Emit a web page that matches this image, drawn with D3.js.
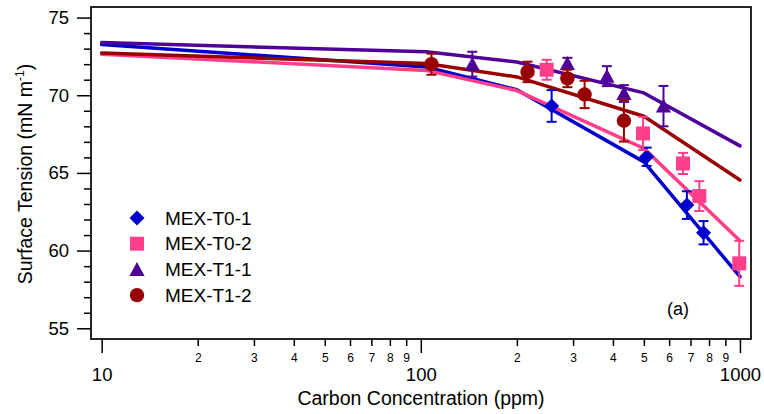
<!DOCTYPE html>
<html>
<head>
<meta charset="utf-8">
<script src="https://cdn.jsdelivr.net/npm/d3@7"></script>
<style>
  body { margin: 0; background: #fff; }
  svg { font-family: "Liberation Sans", Arial, sans-serif; }
</style>
</head>
<body>
<div id="chart"></div>
<script>
// fitted curves (model evaluated at a few concentrations)
const lineConc = [10, 104, 200, 500, 1000]
const lineT01 = [73.26, 71.82, 70.36, 65.71, 58.32]
const lineT02 = [72.64, 71.6, 70.3, 66.58, 60.63]
const lineT11 = [73.39, 72.8, 72.14, 70.15, 66.74]
const lineT12 = [72.72, 72.04, 71.18, 68.65, 64.54]

// measured points
const concT01 = [257, 510, 682, 769]
const stT01 = [69.31, 66.04, 62.93, 61.15]
const errT01 = [1.02, 0.59, 0.89, 0.75]

const concT02 = [248, 497, 663, 746, 995]
const stT02 = [71.64, 67.54, 65.61, 63.51, 59.18]
const errT02 = [0.64, 1.07, 0.68, 0.96, 1.45]

const concT11 = [145, 288, 383, 433, 576]
const stT11 = [72.0, 72.05, 71.23, 70.11, 69.3]
const errT11 = [0.8, 0.36, 0.64, 0.54, 1.3]

const concT12 = [108, 216, 288, 326, 433]
const stT12 = [72.0, 71.5, 71.08, 70.05, 68.36]
const errT12 = [0.68, 0.66, 0.56, 0.88, 1.34]

const seriesNames = ['MEX-T0-1', 'MEX-T0-2', 'MEX-T1-1', 'MEX-T1-2']
const yMajor = [55, 60, 65, 70, 75]
const xMajor = [10, 100, 1000]

const colors = ['#0000cc', '#ff3f8a', '#4f0099', '#990000']
const shapes = ['diamond', 'square', 'triangle', 'circle']

const series = [
  {line: lineT01, conc: concT01, st: stT01, err: errT01},
  {line: lineT02, conc: concT02, st: stT02, err: errT02},
  {line: lineT11, conc: concT11, st: stT11, err: errT11},
  {line: lineT12, conc: concT12, st: stT12, err: errT12},
].map((s, i) => Object.assign(s, {name: seriesNames[i], color: colors[i], shape: shapes[i]}))

const W = 764, H = 414
const frame = {left: 91, right: 751, top: 7, bottom: 339}

const svg = d3.select('#chart').append('svg')
  .attr('width', W)
  .attr('height', H)

const x = d3.scaleLog().domain([9.26, 1083]).range([frame.left, frame.right])
const y = d3.scaleLinear().domain([54.31, 75.68]).range([frame.bottom, frame.top])

function markerPath(shape) {
  const p = d3.path()
  if (shape == 'diamond') {
    const r = 7.5
    p.moveTo(0, -r); p.lineTo(r, 0); p.lineTo(0, r); p.lineTo(-r, 0); p.closePath()
  } else if (shape == 'square') {
    const r = 7
    p.rect(-r, -r, 2 * r, 2 * r)
  } else if (shape == 'triangle') {
    p.moveTo(0, -7.5); p.lineTo(7.6, 6.5); p.lineTo(-7.6, 6.5); p.closePath()
  } else {
    p.arc(0, 0, 7.2, 0, 2 * Math.PI)
  }
  return p.toString()
}

// y axis
const yMinor = svg.append('g')
  .attr('transform', `translate(${frame.left},0)`)
  .call(d3.axisLeft(y).tickValues(d3.range(55, 76).filter(v => v % 5)).tickSize(7).tickFormat(''))
const yAx = svg.append('g')
  .attr('transform', `translate(${frame.left},0)`)
  .call(d3.axisLeft(y).tickValues(yMajor).tickSize(14).tickPadding(8))
yAx.selectAll('.tick text').attr('font-size', 18.5).attr('fill', '#000')

// x axis
const minorX = [2, 3, 4, 5, 6, 7, 8, 9].flatMap(d => [d * 10, d * 100])
const xMinor = svg.append('g')
  .attr('transform', `translate(0,${frame.bottom})`)
  .call(d3.axisBottom(x).tickValues(minorX).tickSize(7).tickFormat(d => String(d).charAt(0)))
xMinor.selectAll('.tick text').attr('font-size', 12).attr('fill', '#000').attr('y', 23).attr('dy', 0)
const xAx = svg.append('g')
  .attr('transform', `translate(0,${frame.bottom})`)
  .call(d3.axisBottom(x).tickValues(xMajor).tickSize(14).tickFormat(d3.format('d')))
xAx.selectAll('.tick text').attr('font-size', 18.5).attr('fill', '#000').attr('y', 41.5).attr('dy', 0)

svg.selectAll('.domain').remove()
svg.selectAll('.tick line').attr('stroke', '#000').attr('stroke-width', 1.5)

// frame
svg.append('rect')
  .attr('x', frame.left).attr('y', frame.top)
  .attr('width', frame.right - frame.left).attr('height', frame.bottom - frame.top)
  .attr('fill', 'none').attr('stroke', '#000').attr('stroke-width', 1.7)

// axis titles
svg.append('text')
  .attr('x', (frame.left + frame.right) / 2 + 0)
  .attr('y', 405)
  .attr('text-anchor', 'middle')
  .attr('font-size', 19.5)
  .text('Carbon Concentration (ppm)')

const yt = svg.append('text')
  .attr('transform', 'translate(32,174) rotate(-90)')
  .attr('text-anchor', 'middle')
  .attr('font-size', 19.5)
yt.append('tspan').text('Surface Tension (mN m')
yt.append('tspan').attr('font-size', 12).attr('dy', -8).text('-1')
yt.append('tspan').attr('dy', 8).text(')')

// curves
const line = d3.line().x((d, i) => x(lineConc[i])).y(d => y(d))
const plot = svg.append('g')
plot.selectAll('.fit')
  .data(series)
  .enter().append('path')
  .attr('class', 'fit')
  .attr('d', d => line(d.line))
  .attr('fill', 'none')
  .attr('stroke', d => d.color)
  .attr('stroke-width', 3.5)
  .attr('stroke-linejoin', 'round')
  .attr('stroke-linecap', 'round')

// points with error bars
series.forEach(s => {
  const pts = s.conc.map((c, i) => ({c, v: s.st[i], e: s.err[i]}))
  const g = plot.append('g')
  const eb = g.selectAll('.err').data(pts).enter().append('g')
    .attr('stroke', s.color).attr('stroke-width', 2)
  eb.append('line')
    .attr('x1', d => x(d.c)).attr('x2', d => x(d.c))
    .attr('y1', d => y(d.v + d.e)).attr('y2', d => y(d.v - d.e))
  eb.append('line')
    .attr('x1', d => x(d.c) - 5).attr('x2', d => x(d.c) + 5)
    .attr('y1', d => y(d.v + d.e)).attr('y2', d => y(d.v + d.e))
  eb.append('line')
    .attr('x1', d => x(d.c) - 5).attr('x2', d => x(d.c) + 5)
    .attr('y1', d => y(d.v - d.e)).attr('y2', d => y(d.v - d.e))
  g.selectAll('.mk').data(pts).enter().append('path')
    .attr('transform', d => `translate(${x(d.c)},${y(d.v)})`)
    .attr('d', markerPath(s.shape))
    .attr('fill', s.color)
})

// legend
const legend = svg.append('g').attr('transform', 'translate(137,218)')
const items = legend.selectAll('g').data(series).enter().append('g')
  .attr('transform', (d, i) => `translate(0,${i * 25.7})`)
items.append('path').attr('d', d => markerPath(d.shape)).attr('fill', d => d.color)
items.append('text')
  .attr('x', 28).attr('dy', '0.35em')
  .attr('font-size', 19)
  .text(d => d.name)

// panel label
svg.append('text')
  .attr('x', 678).attr('y', 315)
  .attr('text-anchor', 'middle')
  .attr('font-size', 18)
  .text('(a)')
</script>
</body>
</html>
